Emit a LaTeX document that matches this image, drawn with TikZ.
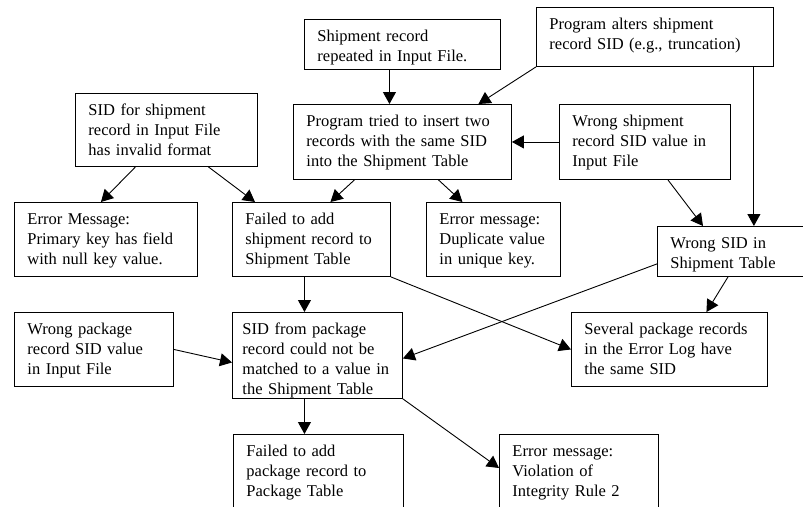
\documentclass[tikz,border=0pt]{standalone}
\usepackage{fontspec}
\setmainfont{Liberation Serif}
\usetikzlibrary{arrows.meta,calc}

\tikzset{
  box/.style={draw,anchor=north west,align=left,inner xsep=13pt,inner ysep=0pt,
              text height=22pt,line width=0.9pt},
  arr/.style={-{Triangle[length=12pt,width=13pt]},line width=0.9pt}
}

\begin{document}
\begin{tikzpicture}[x=1pt,y=-1pt,font=\fontsize{16.5}{20}\selectfont]
\useasboundingbox (0,0) rectangle (803,506);
\clip (0,0) rectangle (803,506);

% causes, top row
\node[box,text width=170pt,text depth=28pt] (rep) at (304,19)
  {Shipment record\\repeated in Input File.};
\node[box,text width=211pt,text depth=37pt] (alt) at (536,7)
  {Program alters shipment\\record SID (e.g., truncation)};
\node[box,text width=156pt,text depth=51pt] (fmt) at (75,93)
  {SID for shipment\\record in Input File\\has invalid format};
\node[box,text width=192pt,text depth=53pt] (dup2) at (293,104)
  {Program tried to insert two\\records with the same SID\\into the Shipment Table};
\node[box,text width=145pt,text depth=53pt] (wsv) at (559,104)
  {Wrong shipment\\record SID value in\\Input File};

% effects
\node[box,text width=157pt,text depth=52pt] (pk) at (14,202)
  {Error Message:\\Primary key has field\\with null key value.};
\node[box,text width=132pt,text depth=52pt] (fsh) at (232,202)
  {Failed to add\\shipment record to\\Shipment Table};
\node[box,text width=108pt,text depth=52pt] (dup) at (426,202)
  {Error message:\\Duplicate value\\in unique key.};
\node[box,text width=134pt,text depth=28pt] (wst) at (657,226)
  {Wrong SID in\\Shipment Table};
\node[box,text width=133pt,text depth=52pt] (wpk) at (14,312)
  {Wrong package\\record SID value\\in Input File};
\node[box,text width=150pt,inner xsep=10pt,text depth=64pt] (nom) at (232,312)
  {SID from package\\record could not be\\matched to a value in\\the Shipment Table};
\node[box,text width=170pt,text depth=52pt] (sev) at (571,312)
  {Several package records\\in the Error Log have\\the same SID};
\node[box,text width=144pt,text depth=58pt] (fpk) at (233,434)
  {Failed to add\\package record to\\Package Table};
\node[box,text width=133pt,text depth=58pt] (vio) at (499,434)
  {Error message:\\Violation of\\Integrity Rule 2};

% connectors
\draw[arr] ([xshift=-13pt]rep.south) -- ([xshift=-13pt]rep.south |- dup2.north);
\draw[arr] (alt.south west) -- ([xshift=76pt]dup2.north);
\draw[arr] ([xshift=-20pt]alt.south east) -- ([xshift=-20pt]alt.south east |- wst.north);
\draw[arr] (wsv.west) -- (dup2.east);
\draw[arr] ([xshift=23pt]wsv.south) -- ([xshift=46pt]wst.north west);
\draw[arr] ([xshift=-31pt]fmt.south) -- ([xshift=-5pt]pk.north);
\draw[arr] ([xshift=42pt]fmt.south) -- ([xshift=23pt]fsh.north west);
\draw[arr] ([xshift=-48pt]dup2.south) -- ([xshift=19pt]fsh.north);
\draw[arr] ([xshift=36pt]dup2.south) -- ([xshift=-31pt]dup.north);
\draw[arr] ([xshift=-7pt]fsh.south) -- ([xshift=-7pt]fsh.south |- nom.north);
\draw[arr] (fsh.south east) -- (sev.west);
\draw[arr] ([yshift=13pt]wst.south west) -- ([yshift=-3pt]nom.east);
\draw[arr] ([xshift=71pt]wst.south west) -- ([xshift=37pt]sev.north);
\draw[arr] (wpk.east) -- ([yshift=-7pt]nom.west);
\draw[arr] ([xshift=-13pt]nom.south) -- ([xshift=-13pt]nom.south |- fpk.north);
\draw[arr] (nom.south east) -- ([yshift=-34pt]vio.north west);
\end{tikzpicture}
\end{document}
